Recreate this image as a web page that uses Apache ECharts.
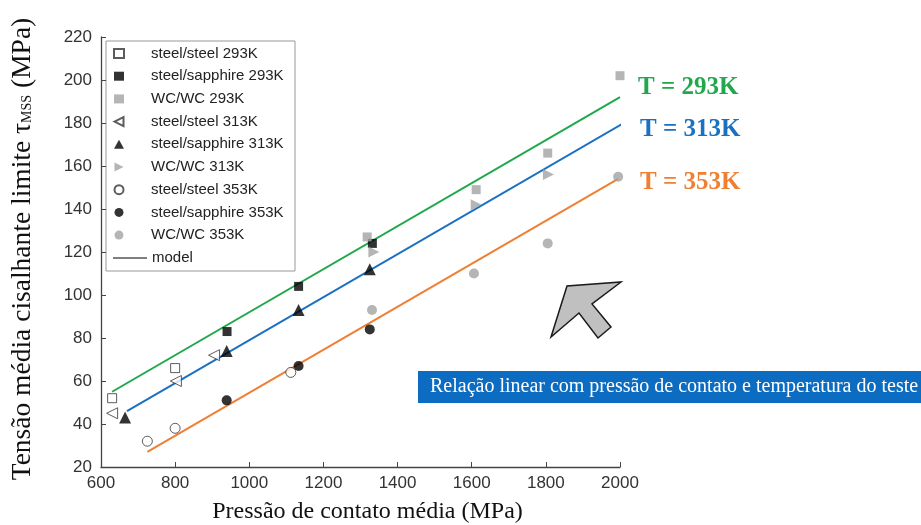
<!DOCTYPE html>
<html>
<head>
<meta charset="utf-8">
<script src="https://cdn.jsdelivr.net/npm/echarts@6/dist/echarts.min.js"></script>
<style>html,body{margin:0;padding:0;background:#fff;}#c{width:921px;height:525px;}</style>
</head>
<body>
<div id="c"></div>
<script>
// ---- data ----
const steelSteel293 = [[630,52],[800,66]];
const steelSapphire293 = [[940,83],[1133,104],[1332,124]];
const wc293 = [[1318,127],[1612,149],[1805,166],[2000,202]];
const steelSteel313 = [[630,45],[802,60],[905,72]];
const steelSapphire313 = [[665,43],[939,74],[1133,93],[1325,112]];
const wc313 = [[1336,120],[1612,142],[1807,156],[2002,189]];
const steelSteel353 = [[725,32],[800,38],[1112,64]];
const steelSapphire353 = [[939,51],[1133,67],[1325,84]];
const wc353 = [[1331,93],[1606,110],[1805,124],[1995,155]];
const model293 = [[630,55],[2000,192]];
const model313 = [[670,46],[2040,183]];
const model353 = [[725,27],[1995,154]];
const legendNames = ['steel/steel 293K','steel/sapphire 293K','WC/WC 293K','steel/steel 313K','steel/sapphire 313K','WC/WC 313K','steel/steel 353K','steel/sapphire 353K','WC/WC 353K'];
const tempLabels = ['T = 293K','T = 313K','T = 353K'];
const xTitle = 'Pressão de contato média (MPa)';
const noteText = 'Relação linear com pressão de contato e temperatura do teste';

const GREEN = '#1fa84c', BLUE = '#1a70c2', ORANGE = '#ef7f33', GRAY = '#a3a3a3';
const LEFT_TRI = 'path://M0,5L10,0L10,10Z';
const RIGHT_TRI = 'path://M10,5L0,0L0,10Z';
const hollow = {color:'#fff', borderColor:'#333', borderWidth:1};
const solid = {color:'#000'};
const grayS = {color:GRAY};

function sc(name, data, symbol, size, style){
  return {type:'scatter', name, data, symbol, symbolSize:size, itemStyle:style, z:3};
}
function ml(name, data, color){
  return {type:'line', name, data, symbol:'none', clip:false, lineStyle:{color, width:2}, itemStyle:{color}, z:2, silent:true};
}

const chart = echarts.init(document.getElementById('c'), null, {renderer:'canvas'});
chart.setOption({
  animation:false,
  backgroundColor:'#fff',
  grid:{left:101, right:301, top:37, bottom:58, outerBoundsMode:'none', containLabel:false},
  xAxis:{
    type:'value', min:600, max:2000, interval:200,
    name:xTitle, nameLocation:'middle', nameGap:33,
    nameTextStyle:{fontFamily:'Liberation Serif', fontSize:24, color:'#111', padding:[0,0,0,14]},
    axisLine:{lineStyle:{color:'#444', width:1.3}},
    axisTick:{inside:true, length:5, lineStyle:{color:'#444'}},
    axisLabel:{fontFamily:'Liberation Sans', fontSize:17, color:'#333', margin:8, formatter:v => String(v)},
    splitLine:{show:false}
  },
  yAxis:{
    type:'value', min:20, max:220, interval:20,
    name:'{a|Tensão média cisalhante limite τ}{b|MSS}{a| (MPa)}', nameLocation:'middle', nameGap:64, nameRotate:90,
    nameTextStyle:{padding:[0,0,0,6], rich:{a:{fontFamily:'Liberation Serif', fontSize:27.5, color:'#111'}, b:{fontFamily:'Liberation Serif', fontSize:14, color:'#111', padding:[8,0,0,0]}}},
    axisLine:{show:true, lineStyle:{color:'#444', width:1.3}},
    axisTick:{show:true, inside:true, length:5, lineStyle:{color:'#444'}},
    axisLabel:{fontFamily:'Liberation Sans', fontSize:17, color:'#333', margin:9},
    splitLine:{show:false}
  },
  legend:[{
    data:legendNames, orient:'vertical', left:113, top:46, padding:0,
    itemWidth:10, itemHeight:9, itemGap:7.7,
    textStyle:{fontFamily:'Liberation Sans', fontSize:15, color:'#222', padding:[0,0,0,22]},
    selectedMode:false
  },{
    data:[{name:'model', icon:'rect'}], orient:'vertical', left:113, top:250.5, padding:0,
    itemWidth:34, itemHeight:1.6,
    textStyle:{fontFamily:'Liberation Sans', fontSize:15, color:'#222'},
    selectedMode:false
  }],
  graphic:[
    {type:'rect', z:-1, shape:{x:106, y:41, width:189, height:230}, style:{fill:'#fff', stroke:'#999', lineWidth:1}},
    {type:'polygon', shape:{points:[[551,337],[567,286],[621,282],[592,304],[611,327],[598,338],[579,313]]}, style:{fill:'#c0c0c0', stroke:'#1a1a1a', lineWidth:1.5}},
    {type:'rect', shape:{x:418, y:371, width:503, height:32}, style:{fill:'#0b6cc1'}},
    {type:'text', x:430, y:387, style:{text:noteText, fill:'#fff', font:'20px "Liberation Serif"', verticalAlign:'middle'}},
    {type:'text', x:638, y:88, style:{text:tempLabels[0], fill:GREEN, font:'bold 25px "Liberation Serif"', verticalAlign:'middle'}},
    {type:'text', x:640, y:130, style:{text:tempLabels[1], fill:BLUE, font:'bold 25px "Liberation Serif"', verticalAlign:'middle'}},
    {type:'text', x:640, y:183, style:{text:tempLabels[2], fill:ORANGE, font:'bold 25px "Liberation Serif"', verticalAlign:'middle'}}
  ],
  series:[
    ml('model 293K', model293, GREEN),
    ml('model 313K', model313, BLUE),
    ml('model 353K', model353, ORANGE),
    {type:'line', name:'model', data:[], symbol:'none', lineStyle:{color:'#555', width:1.5}, itemStyle:{color:'#555'}},
    sc(legendNames[0], steelSteel293, 'rect', 9, hollow),
    sc(legendNames[1], steelSapphire293, 'rect', 9, solid),
    sc(legendNames[2], wc293, 'rect', 9, grayS),
    sc(legendNames[3], steelSteel313, LEFT_TRI, 11, hollow),
    sc(legendNames[4], steelSapphire313, 'triangle', 12, solid),
    sc(legendNames[5], wc313, RIGHT_TRI, 11, grayS),
    sc(legendNames[6], steelSteel353, 'circle', 10, hollow),
    sc(legendNames[7], steelSapphire353, 'circle', 10, solid),
    sc(legendNames[8], wc353, 'circle', 10, grayS)
  ]
});
</script>
</body>
</html>
